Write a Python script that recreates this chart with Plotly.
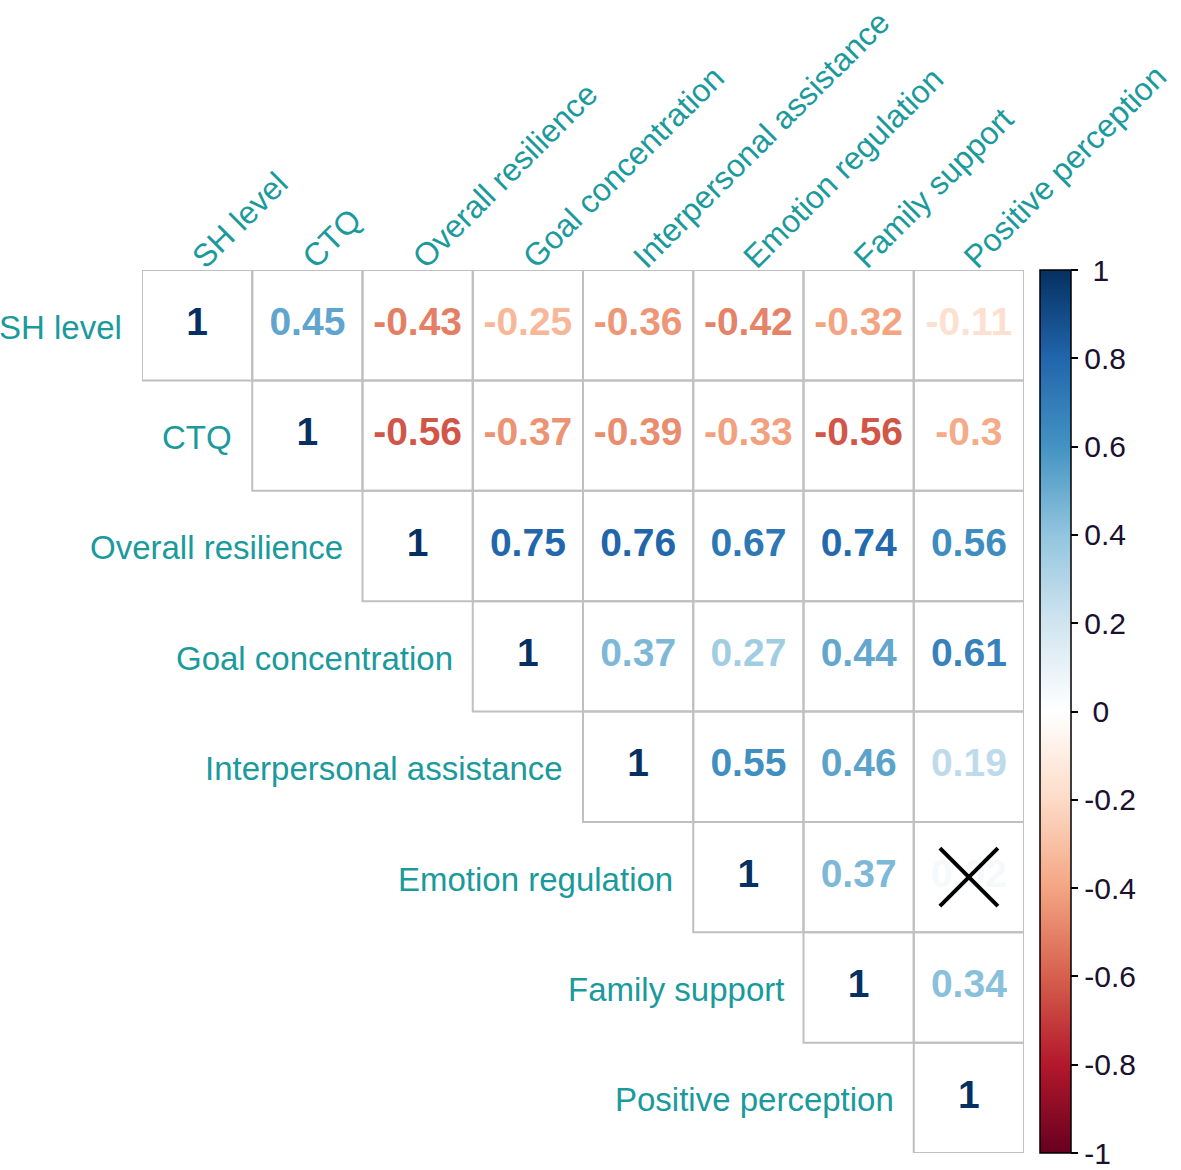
import plotly.graph_objects as go
from plotly.colors import sample_colorscale

labels = ["SH level", "CTQ", "Overall resilience", "Goal concentration",
          "Interpersonal assistance", "Emotion regulation", "Family support",
          "Positive perception"]

# upper-triangle correlation rows (row i holds columns i..7)
row_sh = [1, 0.45, -0.43, -0.25, -0.36, -0.42, -0.32, -0.11]
row_ctq = [1, -0.56, -0.37, -0.39, -0.33, -0.56, -0.30]
row_or = [1, 0.75, 0.76, 0.67, 0.74, 0.56]
row_gc = [1, 0.37, 0.27, 0.44, 0.61]
row_ia = [1, 0.55, 0.46, 0.19]
row_er = [1, 0.37, 0.02]
row_fs = [1, 0.34]
row_pp = [1]
rows = [row_sh, row_ctq, row_or, row_gc, row_ia, row_er, row_fs, row_pp]

# non-significant cells (row, col) marked with a cross
insignificant = [(5, 7)]

tick_vals = [-1, -0.8, -0.6, -0.4, -0.2, 0, 0.2, 0.4, 0.6, 0.8, 1]
tick_text = ["-1", "-0.8", "-0.6", "-0.4", "-0.2", "&nbsp;0", "0.2", "0.4", "0.6", "0.8", "&nbsp;1"]

rdbu = ["#67001F", "#B2182B", "#D6604D", "#F4A582", "#FDDBC7", "#FFFFFF",
        "#D1E5F0", "#92C5DE", "#4393C3", "#2166AC", "#053061"]
colorscale = [[k / (len(rdbu) - 1), c] for k, c in enumerate(rdbu)]

LABEL_COL = "#1a9a9c"
GRID_COL = "#c0c0c0"
FONT = "Liberation Sans, Arial"

n = len(labels)
xs, ys, vals, txt = [], [], [], []
for i, r in enumerate(rows):
    for k, v in enumerate(r):
        j = i + k
        xs.append(j)
        ys.append(i)
        vals.append(v)
        txt.append(f"{v:g}")


def text_pos(v):
    # slightly stronger tone for thin text strokes
    s = 1 if v >= 0 else -1
    return (s * abs(v) ** 0.8 + 1) / 2


colors = sample_colorscale(colorscale, [text_pos(v) for v in vals])

fig = go.Figure()

# grid cells
for i in range(n):
    for j in range(i, n):
        fig.add_shape(type="rect", xref="x", yref="y",
                      x0=j - 0.5, x1=j + 0.5, y0=i - 0.5, y1=i + 0.5,
                      line=dict(color=GRID_COL, width=2), fillcolor="rgba(0,0,0,0)",
                      layer="below")

fig.add_trace(go.Scatter(
    x=xs, y=ys, mode="text", text=txt,
    textfont=dict(family=FONT, size=39, color=colors, weight="bold"),
    textposition="middle center", hoverinfo="skip", showlegend=False))

# colorbar trace
fig.add_trace(go.Scatter(
    x=xs, y=ys, mode="markers", hoverinfo="skip", showlegend=False,
    marker=dict(size=1, opacity=0, color=vals, cmin=-1, cmax=1, colorscale=colorscale,
                showscale=True,
                colorbar=dict(x=(1040 - 142) / 882, xanchor="left", xpad=0,
                              y=0.5, yanchor="middle", len=1, lenmode="fraction", ypad=0,
                              thickness=31, outlinecolor="black", outlinewidth=1.5,
                              ticks="outside", ticklen=7, tickcolor="black", tickwidth=1.5,
                              tickvals=tick_vals, ticktext=tick_text,
                              tickfont=dict(family=FONT, size=30, color="#1a1030")))))

# crosses for insignificant cells
fig.add_trace(go.Scatter(
    x=[c for (_, c) in insignificant], y=[r for (r, _) in insignificant],
    mode="markers", hoverinfo="skip", showlegend=False,
    marker=dict(symbol="x-thin", size=58, line=dict(color="black", width=4))))

# row labels
for i, lab in enumerate(labels):
    fig.add_annotation(x=i - 0.5, y=i, xref="x", yref="y", text=lab, showarrow=False,
                       xanchor="right", yanchor="middle", xshift=-18, yshift=-2,
                       font=dict(family=FONT, size=33, color=LABEL_COL))

fig.update_xaxes(range=[-0.5, n - 0.5], side="top", tickvals=list(range(n)), ticktext=labels,
                 tickangle=-45, showgrid=False, zeroline=False, showline=False, ticks="",
                 ticklabeloverflow="allow", ticklabelstandoff=-12, ticklabelshift=-3,
                 tickfont=dict(family=FONT, size=32, color=LABEL_COL))
fig.update_yaxes(range=[n - 0.5, -0.5], showgrid=False, zeroline=False, showline=False,
                 showticklabels=False, ticks="")

fig.update_layout(width=1181, height=1170, plot_bgcolor="white", paper_bgcolor="white",
                  margin=dict(l=142, r=157, t=270, b=17, autoexpand=False))

fig.write_html("out.html", config={"displayModeBar": False},
               post_script="document.body.style.margin='0';document.body.style.overflow='hidden';")
